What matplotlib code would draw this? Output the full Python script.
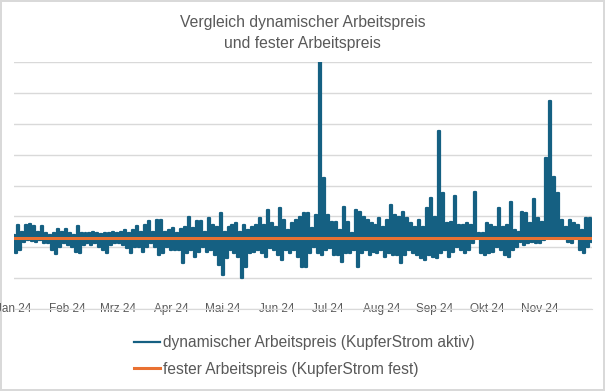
import numpy as np
import pandas as pd
import matplotlib
matplotlib.use('Agg')
import matplotlib.pyplot as plt

plt.rcParams['font.family'] = ['Liberation Sans Narrow', 'Liberation Sans', 'DejaVu Sans']

# highs / lows of the dynamic price (ct/kWh), Jan -> Nov
upper_q1 = [24.0, 27.2, 25.0, 27.2, 27.5, 26.9, 25.0, 26.9, 24.7, 24.0, 24.5, 25.8, 25.0,
            25.8, 24.5, 24.0, 26.9, 24.5, 24.7, 24.5, 25.0, 24.7, 24.3, 24.5, 24.5, 25.0,
            24.5, 25.0, 25.6, 24.5, 25.6, 26.9, 25.0, 27.2, 28.6, 25.0, 28.8]
lower_q1 = [18.0, 19.1, 21.8, 22.3, 22.1, 21.8, 22.3, 21.5, 21.3, 19.1, 17.8, 20.2, 21.3,
            20.7, 20.2, 18.6, 18.0, 20.7, 21.3, 20.7, 21.3, 20.2, 19.1, 18.0, 20.7, 21.3,
            21.5, 20.7, 19.6, 18.0, 20.2, 20.2, 18.6, 20.2, 21.5, 20.2, 17.5]

upper_q2 = [28.8, 25.0, 25.6, 26.1, 24.5, 25.8, 26.7, 29.9, 26.1, 28.6, 28.6, 25.0, 29.4,
            27.2, 26.7, 31.0, 25.0, 26.7, 27.2, 27.7, 25.0, 27.2, 25.6, 26.4, 27.2, 29.4,
            27.2, 32.1, 27.7, 26.7, 32.6, 28.8, 25.6, 27.7, 28.8, 29.9, 31.0]
lower_q2 = [18.0, 20.2, 19.1, 19.1, 19.1, 14.8, 18.0, 19.1, 16.9, 18.6, 20.2, 18.6, 19.1,
            17.5, 14.2, 11.0, 16.4, 19.1, 18.0, 16.9, 9.9, 13.7, 18.0, 18.6, 19.1, 18.0,
            16.9, 19.6, 19.1, 17.5, 15.9, 19.1, 18.0, 19.1, 16.9, 13.7, 13.5]

upper_q3 = [31.0, 26.1, 30.4, 80.0, 42.4, 30.4, 28.3, 28.3, 25.6, 33.1, 28.3, 24.5, 32.1,
            31.5, 29.9, 28.8, 27.7, 27.2, 29.4, 26.7, 28.8, 33.7, 30.4, 29.9, 31.5, 29.4,
            27.7, 26.7, 28.8, 26.7, 32.6, 36.0, 29.9, 57.7, 37.6, 27.7, 28.3]
lower_q3 = [18.0, 20.2, 18.0, 17.5, 19.1, 19.6, 17.5, 17.5, 15.3, 18.0, 18.0, 19.1, 13.7,
            18.0, 19.1, 17.5, 18.6, 18.0, 19.1, 16.9, 18.0, 17.5, 17.5, 14.8, 17.5, 19.1,
            18.0, 17.5, 16.4, 15.9, 17.5, 16.9, 16.4, 18.0, 19.1, 16.9, 18.6]

upper_q4 = [36.6, 27.2, 27.2, 27.7, 27.2, 37.9, 24.5, 24.5, 27.7, 27.2, 26.7, 32.7, 26.7,
            27.2, 34.7, 25.6, 25.0, 31.5, 31.0, 27.7, 35.6, 29.4, 28.3, 48.9, 67.4, 42.8,
            37.6, 28.8, 26.7, 28.8, 27.7, 27.2, 25.6, 29.4, 29.4]
lower_q4 = [20.2, 19.1, 18.0, 19.1, 21.3, 22.9, 18.0, 17.5, 18.0, 18.6, 20.2, 19.1, 17.5,
            16.9, 19.1, 20.2, 21.8, 20.7, 21.3, 21.8, 21.3, 21.3, 22.3, 23.2, 23.2, 23.2,
            23.4, 23.2, 21.8, 21.3, 23.4, 19.1, 18.0, 20.2, 21.8]

fixed_price = 22.9
month_labels = ['Jan 24', 'Feb 24', 'Mrz 24', 'Apr 24', 'Mai 24', 'Jun 24',
                'Jul 24', 'Aug 24', 'Sep 24', 'Okt 24', 'Nov 24']

upper = upper_q1 + upper_q2 + upper_q3 + upper_q4
lower = lower_q1 + lower_q2 + lower_q3 + lower_q4
dynamic = np.column_stack([upper, lower]).ravel()
times = pd.date_range('2024-01-01', '2024-12-01', periods=len(dynamic))

blue = '#156082'
orange = '#E97132'
grey = '#595959'

fig = plt.figure(figsize=(6.05, 3.91), dpi=100, edgecolor='#d9d9d9', linewidth=1.5)
ax = fig.add_axes([14 / 605, 82 / 391, 578 / 605, 247 / 391])

l1, = ax.plot(times, dynamic, color=blue, lw=1.6, drawstyle='steps-mid')
l2, = ax.plot(times, np.full(len(times), fixed_price), color=orange, lw=2.2)

ax.set_ylim(0, 80)
ax.set_xlim(times[0], times[-1])
ax.set_yticks(np.arange(0, 81, 10))
ax.set_yticklabels([])
ax.yaxis.grid(True, color='#d9d9d9', lw=1)
ax.set_axisbelow(True)
ax.tick_params(axis='y', length=0)

ax.set_xticks(pd.date_range('2024-01-01', periods=len(month_labels), freq='MS'))
ax.set_xticklabels(month_labels)
ax.tick_params(axis='x', length=0, pad=0, labelsize=8.5, labelcolor=grey)
plt.setp(ax.get_xticklabels(), va='center')

for side in ['left', 'right', 'top']:
    ax.spines[side].set_visible(False)
ax.spines['bottom'].set_color('#d9d9d9')

fig.text(0.5, 1 - 33 / 391, 'Vergleich dynamischer Arbeitspreis\nund fester Arbeitspreis',
         ha='center', va='center', fontsize=11.3, color=grey, linespacing=1.55)

fig.legend([l1, l2], ['dynamischer Arbeitspreis (KupferStrom aktiv)',
                      'fester Arbeitspreis (KupferStrom fest)'],
           loc='center', bbox_to_anchor=(0.503, 1 - 356 / 391), frameon=False,
           fontsize=11.2, labelcolor=grey, handlelength=1.7, handletextpad=0.2,
           labelspacing=0.75)

fig.savefig('out.png', dpi=100)
